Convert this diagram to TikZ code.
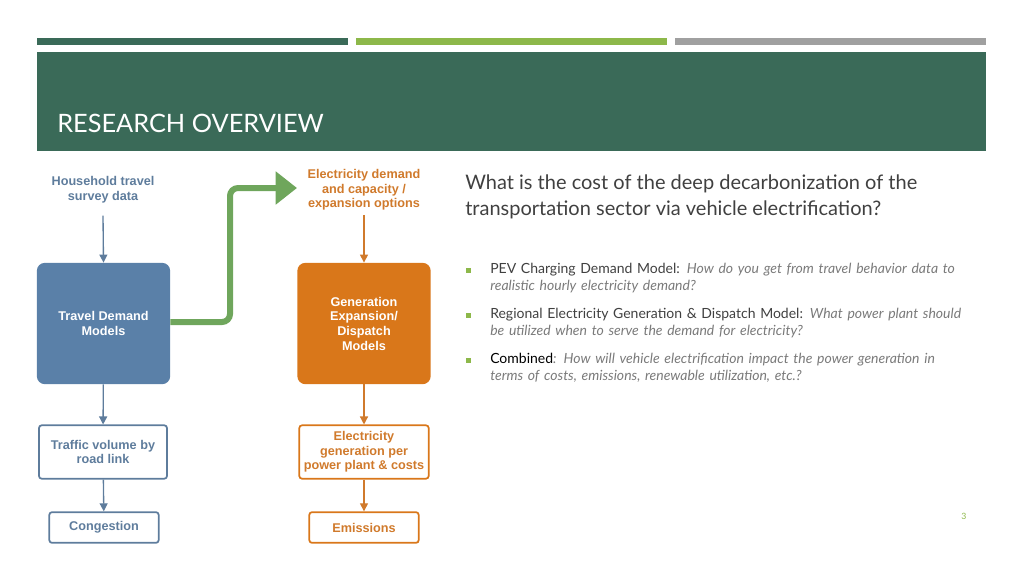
\documentclass[tikz,border=0pt]{standalone}
\usepackage{fontspec}
\setmainfont{Lato}
\newfontfamily\diag{Liberation Sans}
\usetikzlibrary{arrows.meta}
\definecolor{hdr}{HTML}{3A6A58}
\definecolor{lgreen}{HTML}{8DB84A}
\definecolor{bargrey}{HTML}{A0A0A0}
\definecolor{blu}{HTML}{5A80A8}
\definecolor{blutxt}{HTML}{5E7C9C}
\definecolor{org}{HTML}{D9771A}
\definecolor{orgtxt}{HTML}{D07A2C}
\definecolor{arr}{HTML}{6FA65C}
\definecolor{txt}{HTML}{404040}
\definecolor{itl}{HTML}{7A7A7A}
\begin{document}
\begin{tikzpicture}[x=0.75pt,y=-0.75pt,
  lbl/.style={font=\diag\bfseries\fontsize{9.5}{11}\selectfont,align=center,inner sep=0pt},
  bigbox/.style={draw=none,rounded corners=6pt,text=white,lbl},
  smallbox/.style={draw,line width=1.3pt,rounded corners=2pt,lbl},
  bar/.style={arrows={-Triangle[length=6pt,width=6pt]},line width=1pt},
  bul/.style={anchor=north west,align=left,text width=360pt,font=\fontsize{10.5}{12.8}\selectfont,text=txt,inner sep=0pt}]
\useasboundingbox (0,0) rectangle (1024,576);
\fill[hdr] (37,38) rectangle (348,45);
\fill[lgreen] (356,38) rectangle (667,45);
\fill[bargrey] (675,38) rectangle (986,45);
\fill[hdr] (37,52) rectangle (986,151);
\node[anchor=base west,text=white,font=\fontsize{19}{22}\selectfont,inner sep=0pt] (title) at (57,132) {RESEARCH OVERVIEW};
% left column
\node[lbl,text=blutxt] (hh) at (103,190) {Household travel\\survey data};
\node[bigbox,fill=blu,minimum width=100pt,minimum height=91pt] (tdm) at (103.5,323.5) {Travel Demand\\Models};
\node[smallbox,draw=blutxt,text=blutxt,minimum width=96pt,minimum height=40pt] (tv) at (103,452) {Traffic volume by\\road link};
\node[smallbox,draw=blutxt,text=blutxt,minimum width=82pt,minimum height=23pt] (cg) at (104,527.5) {Congestion};
\draw[bar,blutxt] (hh.south)++(0,12) -- (tdm.north);
\draw[bar,blutxt] (tdm) -- (tv);
\draw[bar,blutxt] (tv) -- (cg);
% right column
\node[lbl,text=orgtxt] (ed) at (364,190) {Electricity demand\\and capacity /\\expansion options};
\node[bigbox,fill=org,minimum width=100pt,minimum height=91pt] (gen) at (364,323.5) {Generation\\Expansion/\\Dispatch\\Models};
\node[smallbox,draw=org,text=orgtxt,minimum width=97pt,minimum height=40pt] (eg) at (364,452) {Electricity\\generation per\\power plant \& costs};
\node[smallbox,draw=org,text=orgtxt,minimum width=82pt,minimum height=23pt] (em) at (364,527.5) {Emissions};
\draw[bar,orgtxt] (ed.south)++(0,4) -- (gen.north);
\draw[bar,orgtxt] (gen) -- (eg);
\draw[bar,orgtxt] (eg) -- (em);
% green arrow
\coordinate (gend) at (297,188);
\draw[arr,line width=4.5pt,rounded corners=6pt,arrows={-Triangle[length=16pt,width=24pt]}] (tdm.east |- 0,322) -- (230,322) -- (230,188) -- (gend);
% right text
\node[anchor=north west,align=left,text=txt,font=\fontsize{15}{19.5}\selectfont,inner sep=0pt] (q) at (465,174) {What is the cost of the deep decarbonization of the\\transportation sector via vehicle electrification?};
\node[bul] (b1) at (490,263) {PEV Charging Demand Model: \textcolor{itl}{\itshape How do you get from travel behavior data to realistic hourly electricity demand?}};
\node[bul] (b2) at (490,308) {Regional Electricity Generation \& Dispatch Model: \textcolor{itl}{\itshape What power plant should be utilized when to serve the demand for electricity?}};
\node[bul] (b3) at (490,353) {\textcolor{black}{Combined}\textcolor{itl}{\itshape: How will vehicle electrification impact the power generation in terms of costs, emissions, renewable utilization, etc.?}};
\foreach \y/\n in {271/m1,316/m2,361/m3} \fill[lgreen] (466,\y-3) rectangle (471,\y+2);
\node[text=lgreen,font=\fontsize{6.5}{8}\selectfont,inner sep=0pt] (pg) at (964,516) {3};
\end{tikzpicture}
\end{document}
